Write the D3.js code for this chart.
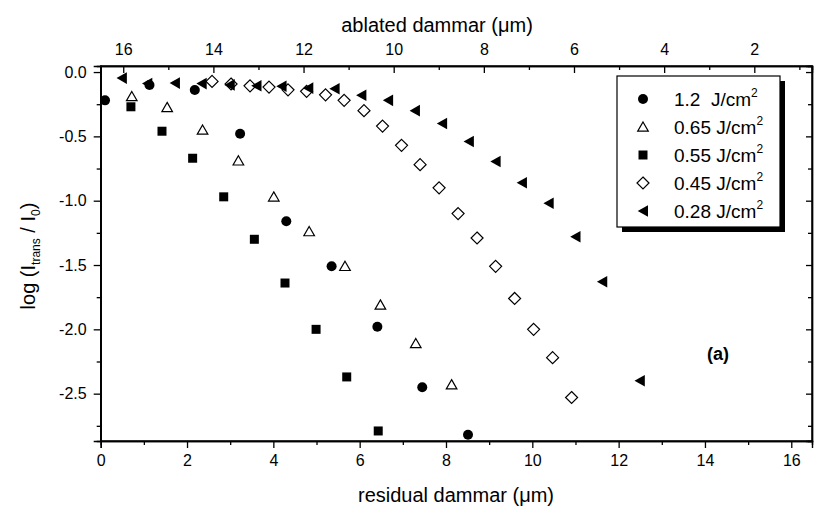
<!DOCTYPE html>
<html><head><meta charset="utf-8">
<script src="https://cdn.jsdelivr.net/npm/d3@7"></script>
<style>body{margin:0;background:#fff}svg{display:block}text{font-family:"Liberation Sans",Arial,sans-serif;fill:#000}</style>
</head><body>
<script>
// ---- data ----
const seriesNames = ["1.2  J/cm", "0.65 J/cm", "0.55 J/cm", "0.45 J/cm", "0.28 J/cm"];
const x12  = [0.10, 1.13, 2.18, 3.23, 4.30, 5.35, 6.41, 7.45, 8.51];
const y12  = [-0.22, -0.10, -0.14, -0.48, -1.16, -1.51, -1.98, -2.45, -2.82];
const x065 = [0.72, 1.54, 2.36, 3.19, 4.01, 4.83, 5.66, 6.48, 7.30, 8.13];
const y065 = [-0.19, -0.275, -0.45, -0.69, -0.97, -1.24, -1.51, -1.81, -2.11, -2.43];
const x055 = [0.70, 1.42, 2.13, 2.85, 3.56, 4.27, 4.99, 5.70, 6.43];
const y055 = [-0.27, -0.46, -0.67, -0.97, -1.30, -1.64, -2.00, -2.37, -2.79];
const x045 = [2.58, 3.02, 3.46, 3.90, 4.34, 4.77, 5.21, 5.64, 6.10, 6.53, 6.97, 7.40, 7.84, 8.28, 8.72, 9.15, 9.59, 10.03, 10.47, 10.91];
const y045 = [-0.073, -0.093, -0.107, -0.117, -0.138, -0.15, -0.177, -0.22, -0.30, -0.42, -0.57, -0.72, -0.90, -1.10, -1.29, -1.51, -1.76, -2.00, -2.22, -2.53];
const x028 = [0.49, 1.08, 1.72, 2.34, 2.99, 3.61, 4.19, 4.81, 5.42, 6.04, 6.66, 7.28, 7.91, 8.53, 9.15, 9.76, 10.38, 11.00, 11.62, 12.49];
const y028 = [-0.047, -0.09, -0.086, -0.09, -0.10, -0.107, -0.11, -0.125, -0.13, -0.18, -0.22, -0.30, -0.40, -0.54, -0.695, -0.86, -1.02, -1.28, -1.63, -2.40];
const bottomTicks = [0, 2, 4, 6, 8, 10, 12, 14, 16];
const bottomMinor = [1, 3, 5, 7, 9, 11, 13, 15];
const topTicks = [16, 14, 12, 10, 8, 6, 4, 2];
const topMinor = [15, 13, 11, 9, 7, 5, 3, 1];
const yTicks = [0, -0.5, -1.0, -1.5, -2.0, -2.5];
const yMinor = [-0.25, -0.75, -1.25, -1.75, -2.25, -2.75];

const shapes = ["circle", "triangle", "square", "diamond", "left"];
const filled = [true, false, true, false, true];

// ---- layout ----
const W = 815, H = 507;
const L = 100.7, R = 812, T = 66, B = 441;
const svg = d3.select("body").append("svg").attr("width", W).attr("height", H);

const x = d3.scaleLinear().domain([0, 16.48]).range([L, R]);
const xTop = d3.scaleLinear().domain([16.5, 0.72]).range([L, R]);
const y = d3.scaleLinear().domain([0.047, -2.868]).range([T, B]);

function shapePath(s) {
  switch (s) {
    case "circle": return d3.symbol(d3.symbolCircle, Math.PI * 25)();
    case "square": return "M-4.5,-4.5H4.5V4.5H-4.5Z";
    case "triangle": return "M0,-5L5.3,4.2L-5.3,4.2Z";
    case "diamond": return "M0,-6L6,0L0,6L-6,0Z";
    case "left": return "M-5.3,0L5,-5.8L5,5.8Z";
  }
}

// axes frame
svg.append("rect").attr("x", L).attr("y", T).attr("width", R - L).attr("height", B - T)
  .attr("fill", "none").attr("stroke", "#000").attr("stroke-width", 1.4);

// bottom axis
svg.append("g").attr("transform", `translate(0,${B})`)
  .call(d3.axisBottom(x).tickValues(bottomTicks).tickSize(7).tickPadding(7).tickFormat(d => String(d)));
svg.append("g").attr("transform", `translate(0,${B})`)
  .call(d3.axisBottom(x).tickValues(bottomMinor).tickSize(4).tickFormat(""));
// top axis (ticks inward)
svg.append("g").attr("transform", `translate(0,${T})`)
  .call(d3.axisTop(xTop).tickValues(topTicks).tickSize(-7).tickPadding(11).tickFormat(d => String(d)));
svg.append("g").attr("transform", `translate(0,${T})`)
  .call(d3.axisTop(xTop).tickValues(topMinor).tickSize(-4).tickFormat(""));
// left axis
const fmt = d => (Math.abs(d) < 1e-9 ? "0.0" : d.toFixed(1));
svg.append("g").attr("transform", `translate(${L},0)`)
  .call(d3.axisLeft(y).tickValues(yTicks).tickSize(7).tickPadding(7).tickFormat(fmt));
svg.append("g").attr("transform", `translate(${L},0)`)
  .call(d3.axisLeft(y).tickValues(yMinor).tickSize(4).tickFormat(""));
// right axis (ticks inward)
svg.append("g").attr("transform", `translate(${R},0)`)
  .call(d3.axisRight(y).tickValues(yTicks).tickSize(-6).tickFormat(""));
svg.append("g").attr("transform", `translate(${R},0)`)
  .call(d3.axisRight(y).tickValues(yMinor).tickSize(-4).tickFormat(""));

svg.selectAll(".domain").attr("stroke", "#000").attr("stroke-width", 1.4);
svg.selectAll(".tick line").attr("stroke", "#000").attr("stroke-width", 1.3);
svg.selectAll(".tick text").attr("font-size", 16).attr("font-family", "Liberation Sans, Arial, sans-serif").attr("fill", "#000");

// axis titles
svg.append("text").attr("x", 437).attr("y", 32).attr("text-anchor", "middle").attr("font-size", 20)
  .text("ablated dammar (μm)");
svg.append("text").attr("x", 456).attr("y", 502).attr("text-anchor", "middle").attr("font-size", 20)
  .text("residual dammar (μm)");
const yl = svg.append("text").attr("transform", "translate(35,256) rotate(-90)").attr("text-anchor", "middle").attr("font-size", 20);
yl.append("tspan").text("log (I");
yl.append("tspan").attr("font-size", 12).attr("dy", 5).text("trans");
yl.append("tspan").attr("dy", -5).text(" / I");
yl.append("tspan").attr("font-size", 12).attr("dy", 5).text("0");
yl.append("tspan").attr("dy", -5).text(")");

// data
const seriesX = [x12, x065, x055, x045, x028];
const seriesY = [y12, y065, y055, y045, y028];
seriesX.forEach((xs, i) => {
  const pts = xs.map((v, j) => [v, seriesY[i][j]]);
  svg.append("g").selectAll("path").data(pts).join("path")
    .attr("d", shapePath(shapes[i]))
    .attr("transform", d => `translate(${x(d[0])},${y(d[1])})`)
    .attr("fill", filled[i] ? "#000" : "#fff")
    .attr("stroke", "#000").attr("stroke-width", filled[i] ? 0 : 1.2);
});

// (a) label
svg.append("text").attr("x", 718).attr("y", 360).attr("text-anchor", "middle").attr("font-size", 18)
  .attr("font-weight", "bold").text("(a)");

// legend
const lx0 = 617, ly0 = 76, lx1 = 780, ly1 = 227;
svg.append("rect").attr("x", lx0 + 5).attr("y", ly0 + 5).attr("width", lx1 - lx0).attr("height", ly1 - ly0).attr("fill", "#000");
svg.append("rect").attr("x", lx0).attr("y", ly0).attr("width", lx1 - lx0).attr("height", ly1 - ly0)
  .attr("fill", "#fff").attr("stroke", "#000").attr("stroke-width", 1.2);
seriesNames.forEach((nm, i) => {
  const cy = 99 + i * 28;
  svg.append("path").attr("d", shapePath(shapes[i])).attr("transform", `translate(643,${cy})`)
    .attr("fill", filled[i] ? "#000" : "#fff").attr("stroke", "#000").attr("stroke-width", filled[i] ? 0 : 1.2);
  const t = svg.append("text").attr("x", 674).attr("y", cy + 7).attr("font-size", 19).attr("xml:space", "preserve");
  t.append("tspan").text(nm);
  t.append("tspan").attr("font-size", 12).attr("dy", -9).text("2");
});
</script>
</body></html>
